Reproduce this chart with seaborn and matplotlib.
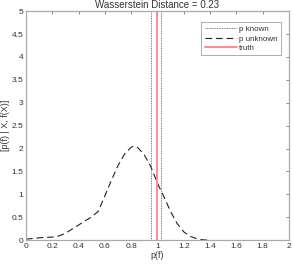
import numpy as np
import pandas as pd
import seaborn as sns
import matplotlib
matplotlib.use("Agg")
import matplotlib.pyplot as plt

# density of p(f) for the unknown case
pf = [0.0, 0.05, 0.1, 0.15, 0.2, 0.25, 0.3, 0.35, 0.4, 0.45, 0.5, 0.55, 0.6,
      0.65, 0.7, 0.75, 0.8, 0.82, 0.85, 0.9, 0.95, 1.0, 1.05, 1.1, 1.15,
      1.2, 1.25, 1.3, 1.35, 1.4]
dens = [0.02, 0.035, 0.05, 0.06, 0.065, 0.09, 0.15, 0.24, 0.33, 0.42, 0.51, 0.63, 0.97,
        1.31, 1.63, 1.88, 2.03, 2.05, 2.02, 1.86, 1.6, 1.24, 0.94, 0.62, 0.36,
        0.18, 0.08, 0.03, 0.005, 0.0]

known_bounds = [0.953, 1.03]
truth = 1.0
title = "Wasserstein Distance = 0.23"

df = pd.DataFrame({"p": pf, "d": dens})

sns.set_style("white")
plt.rcParams["font.family"] = ["Liberation Sans", "DejaVu Sans"]

fig = plt.figure(figsize=(2.93, 2.65), dpi=100)
ax = fig.add_axes([0.089, 0.094, 0.897, 0.864])

for i, b in enumerate(known_bounds):
    ax.axvline(b, color="#555555", ls=(0, (1, 1)), lw=0.6,
               label="p known" if i == 0 else None)
sns.lineplot(data=df, x="p", y="d", ax=ax, color="#222222", lw=0.8,
             ls=(0, (6, 3.5)), label="p unknown")
ax.axvline(truth, color="#ff8a8a", lw=1.4, label="truth")

ax.set_xlim(0, 2)
ax.set_ylim(0, 5)
ax.set_xticks(np.arange(0, 2.01, 0.2))
ax.set_xticklabels(["0", "0.2", "0.4", "0.6", "0.8", "1", "1.2", "1.4", "1.6", "1.8", "2"])
ax.set_yticks(np.arange(0, 5.01, 0.5))
ax.set_yticklabels(["0", "0.5", "1", "1.5", "2", "2.5", "3", "3.5", "4", "4.5", "5"])
ax.tick_params(direction="in", length=2.5, width=0.5, labelsize=6,
               top=True, right=True, colors="#555555", labelcolor="#333333", pad=2)
for s in ax.spines.values():
    s.set_color("#aaaaaa")
    s.set_linewidth(0.9)
ax.set_xlabel("p(f)", fontsize=6.5, labelpad=1, color="#333333")
ax.set_ylabel("[p(f) | X, f(X)]", fontsize=6.5, labelpad=1, color="#333333")
ax.set_title(title, fontsize=7, pad=2, color="#333333")

leg = ax.legend(loc="upper right", fontsize=5.8, frameon=True, fancybox=False,
                handlelength=4, borderpad=0.4, labelspacing=0.25, handletextpad=0.3,
                bbox_to_anchor=(0.985, 0.97))
leg.get_frame().set_edgecolor("#888888")
leg.get_frame().set_linewidth(0.6)
for t in leg.get_texts():
    t.set_color("#333333")

fig.savefig("out.png", dpi=100)
